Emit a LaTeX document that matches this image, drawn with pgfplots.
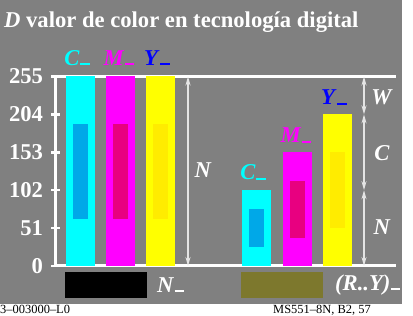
\documentclass[border=0pt]{standalone}
\usepackage{pgfplots}
\pgfplotsset{compat=1.18}
\usepackage{fontspec}
\setmainfont{Liberation Serif}
\usetikzlibrary{arrows.meta}
\definecolor{bg}{RGB}{128,128,128}
\definecolor{cy}{RGB}{0,255,255}
\definecolor{ma}{RGB}{255,0,255}
\definecolor{ye}{RGB}{255,255,0}
\definecolor{cyi}{RGB}{0,168,232}
\definecolor{mai}{RGB}{232,0,128}
\definecolor{yei}{RGB}{255,236,0}
\definecolor{olivec}{RGB}{125,120,45}
\definecolor{arr}{RGB}{228,228,228}
\definecolor{bl}{RGB}{0,0,255}
\newcommand{\bigf}{\fontsize{22.7}{22.7}\selectfont\bfseries}
\newcommand{\ud}{\kern0.5pt\rule{0.42em}{0.09em}}
\begin{document}
\begin{tikzpicture}
\useasboundingbox (0,0) rectangle (413bp,316bp);
\fill[bg] (0,12bp) rectangle (402bp,316bp);
\node[anchor=base west, inner sep=0, text=white, font=\bigf] at (4bp,288bp) {\textit{D} valor de color en tecnología digital};
\begin{axis}[
  at={(55.5bp,50bp)}, anchor=south west, scale only axis,
  width=340.5bp, height=189.5bp,
  xmin=55.5, xmax=396, ymin=0, ymax=255,
  axis x line*=box, axis y line*=left,
  axis line style={white, line width=3bp},
  xtick=\empty, ytick={0,51,102,153,204,255},
  tick style={white, line width=2.5bp}, major tick length=8bp, tick align=center,
  yticklabel style={text=white, font=\bigf, xshift=-5bp},
  /pgf/number format/assume math mode=true,
  clip=false,
  arrw/.style={arr, line width=1.6bp, {Stealth[length=9bp,width=5bp]}-{Stealth[length=9bp,width=5bp]}},
]
% group 1: full bars
\addplot[fill=cy, draw=none] coordinates {(66,0)(95,0)(95,255)(66,255)};
\addplot[fill=ma, draw=none] coordinates {(106,0)(135,0)(135,255)(106,255)};
\addplot[fill=ye, draw=none] coordinates {(146,0)(175,0)(175,255)(146,255)};
\addplot[fill=cyi, draw=none] coordinates {(73,63.75)(88,63.75)(88,191.25)(73,191.25)};
\addplot[fill=mai, draw=none] coordinates {(113,63.75)(128,63.75)(128,191.25)(113,191.25)};
\addplot[fill=yei, draw=none] coordinates {(153,63.75)(168,63.75)(168,191.25)(153,191.25)};
% group 2
\addplot[fill=cy, draw=none] coordinates {(242,0)(271,0)(271,102)(242,102)};
\addplot[fill=ma, draw=none] coordinates {(283,0)(312,0)(312,153)(283,153)};
\addplot[fill=ye, draw=none] coordinates {(323,0)(352,0)(352,204)(323,204)};
\addplot[fill=cyi, draw=none] coordinates {(249,25.5)(264,25.5)(264,76.5)(249,76.5)};
\addplot[fill=mai, draw=none] coordinates {(290,38.25)(305,38.25)(305,114.75)(290,114.75)};
\addplot[fill=yei, draw=none] coordinates {(330,51)(345,51)(345,153)(330,153)};
% arrows
\addplot[arrw] coordinates {(188,0)(188,255)};
\addplot[arrw] coordinates {(364,204)(364,255)};
\addplot[arrw] coordinates {(364,102)(364,204)};
\addplot[arrw] coordinates {(364,0)(364,102)};
% labels
\node[text=cy, font=\bigf] at (axis cs:77,280) {\textit{C}\ud};
\node[text=ma, font=\bigf] at (axis cs:119,280) {\textit{M}\ud};
\node[text=bl, font=\bigf] at (axis cs:157,280) {\textit{Y}\ud};
\node[text=cy, font=\bigf] at (axis cs:253,126) {\textit{C}\ud};
\node[text=ma, font=\bigf] at (axis cs:296,176) {\textit{M}\ud};
\node[text=bl, font=\bigf] at (axis cs:334,227) {\textit{Y}\ud};
\node[text=white, font=\bigf] at (axis cs:203,129) {\textit{N}};
\node[text=white, font=\bigf] at (axis cs:382,227) {\textit{W}};
\node[text=white, font=\bigf] at (axis cs:382,152) {\textit{C}};
\node[text=white, font=\bigf] at (axis cs:382,52.5) {\textit{N}};
\end{axis}
\fill[black] (65bp,18bp) rectangle (147bp,44bp);
\fill[olivec] (241bp,18bp) rectangle (323bp,44bp);
\node[text=white, font=\bigf, anchor=west, inner sep=0] at (157bp,31bp) {\textit{N}\ud};
\node[text=white, font=\bigf, anchor=west, inner sep=0] at (335bp,31bp) {\textit{(R..Y)}\ud};
\node[anchor=base west, inner sep=0, font=\fontsize{12.5}{12.5}\selectfont] at (0bp,3bp) {3–003000–L0};
\node[anchor=base west, inner sep=0, font=\fontsize{12.5}{12.5}\selectfont] at (273bp,3bp) {MS551–8N, B2, 57};
\end{tikzpicture}
\end{document}
